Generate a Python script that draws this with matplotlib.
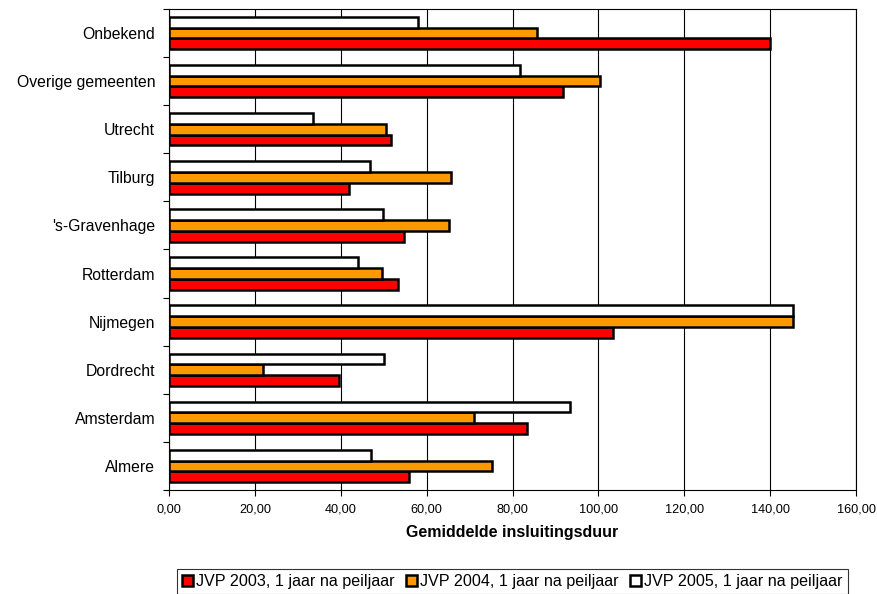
import numpy as np
import matplotlib.pyplot as plt
from matplotlib.ticker import FuncFormatter, FixedLocator

plt.rcParams['font.family'] = ['Liberation Sans', 'DejaVu Sans']

# categories, bottom to top as drawn
cities = ['Almere', 'Amsterdam', 'Dordrecht', 'Nijmegen', 'Rotterdam',
          "'s-Gravenhage", 'Tilburg', 'Utrecht', 'Overige gemeenten', 'Onbekend']

jvp2003 = [55.9, 83.4, 39.5, 103.5, 53.3, 54.8, 41.8, 51.8, 91.7, 139.9]
jvp2004 = [75.3, 71.0, 21.8, 145.4, 49.6, 65.2, 65.6, 50.5, 100.4, 85.6]
jvp2005 = [47.0, 93.3, 50.1, 145.3, 43.9, 49.9, 46.9, 33.6, 81.7, 57.9]

series_labels = ['JVP 2003, 1 jaar na peiljaar',
                 'JVP 2004, 1 jaar na peiljaar',
                 'JVP 2005, 1 jaar na peiljaar']
colors = ['#ff0000', '#ff9900', '#ffffff']

fig = plt.figure(figsize=(8.78, 5.94), dpi=100)
ax = fig.add_axes([0.1925, 0.175, 0.7825, 0.81])

y = np.arange(len(cities))
h = 0.225
for i, (vals, lab, col) in enumerate(zip([jvp2003, jvp2004, jvp2005], series_labels, colors)):
    ax.barh(y + (i - 1) * h, vals, height=h, color=col, edgecolor='black',
            linewidth=1.8, label=lab, zorder=3)

ax.set_xlim(0, 160)
ax.set_ylim(-0.5, len(cities) - 0.5)
ax.set_xticks(np.arange(0, 161, 20))
ax.xaxis.set_major_formatter(FuncFormatter(lambda v, p: ('%.2f' % v).replace('.', ',')))
ax.grid(axis='x', color='black', linewidth=0.8, zorder=0)

ax.set_yticks(y)
ax.set_yticklabels(cities, fontsize=11.3)
ax.tick_params(axis='y', which='major', length=0, pad=10)
ax.yaxis.set_minor_locator(FixedLocator(np.arange(-0.5, len(cities), 1.0)))
ax.tick_params(axis='y', which='minor', length=4.5, width=0.8)
ax.tick_params(axis='x', labelsize=9.2, length=4, width=0.8, pad=5.5)

for s in ax.spines.values():
    s.set_linewidth(0.8)
    s.set_color('black')

ax.set_xlabel('Gemiddelde insluitingsduur', fontsize=11.5, fontweight='bold', labelpad=7)

leg = fig.legend(loc='upper center', bbox_to_anchor=(0.5837, 0.0421), ncol=3,
                 fontsize=11.6, frameon=True, fancybox=False, edgecolor='black',
                 handlelength=0.68, handleheight=0.68, handletextpad=0.2,
                 columnspacing=0.7, borderpad=0.3, borderaxespad=0.0)
leg.get_frame().set_linewidth(0.8)

fig.savefig('out.png', dpi=100)
